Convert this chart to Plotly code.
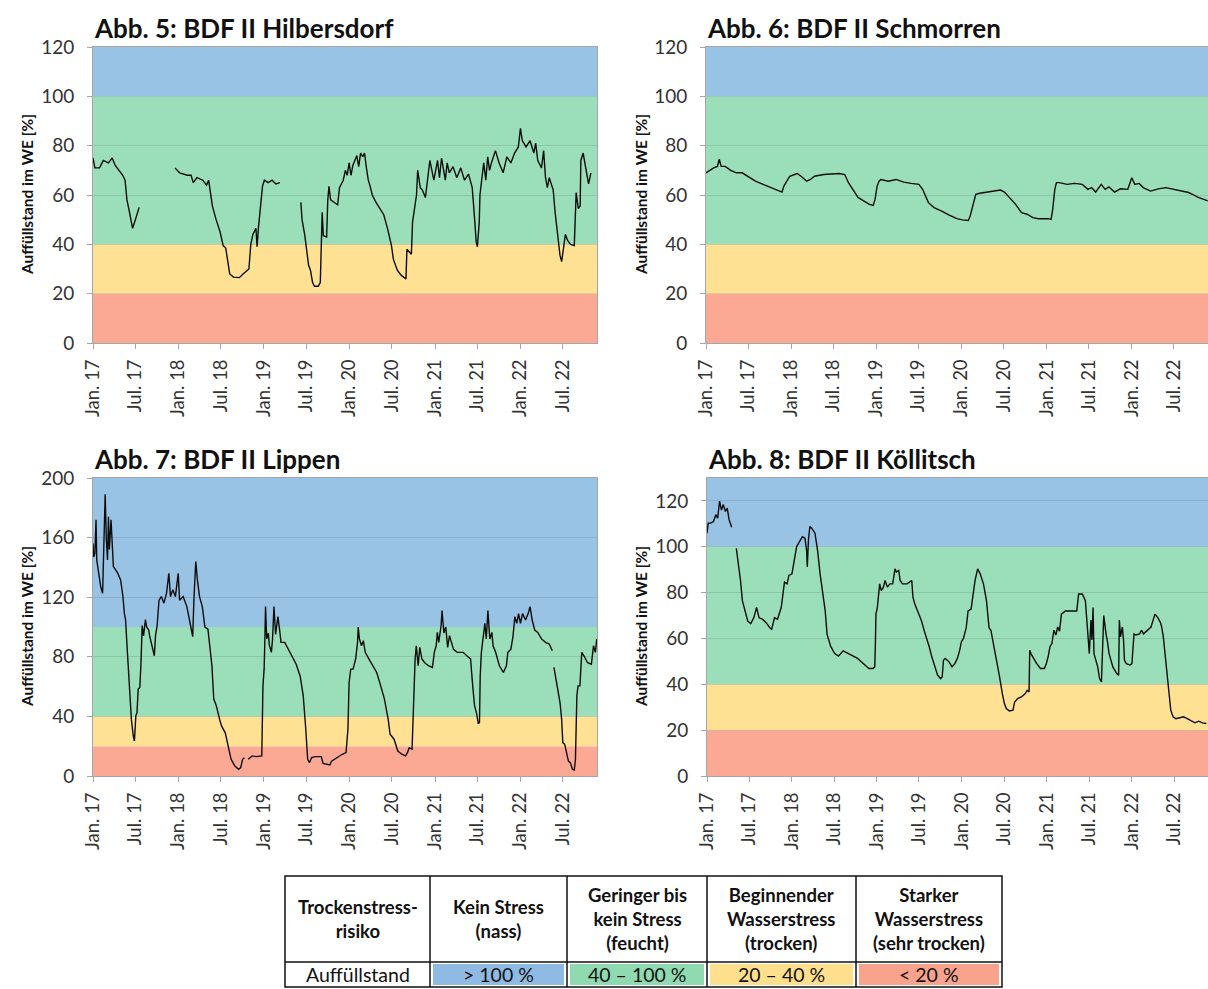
import pandas as pd
import plotly.graph_objects as go

W, H = 1208, 989
FONT = "Lato, 'Open Sans', sans-serif"
START = pd.Timestamp("2017-01-01")
X_END = "2022-11-24"

# ---------------- data ----------------
tick_dates = [f"{y}-{m:02d}-01" for y in range(2017, 2023) for m in (1, 7)]
tick_text = [f"{m} {str(y)[2:]}" for y in range(2017, 2023) for m in ("Jan.", "Jul.")]

titles = ["Abb. 5: BDF II Hilbersdorf", "Abb. 6: BDF II Schmorren",
          "Abb. 7: BDF II Lippen", "Abb. 8: BDF II Köllitsch"]
y_title = "Auffüllstand im WE [%]"

# days since 2017-01-01 and filling level [%]; None = gap in the record
hil_day = [0, 8, 28, 44, 66, 82, 95, 110, 127, 137, 145, 156, 169, 181, 197, 250,
           350, 370, 403, 419, 428, 444, 469, 485, 494, 510, 526, 543, 556, 567, 576, 584, 600, 625,
           641, 658, 666, 674, 683, 696, 701, 707, 716, 724, 732, 748, 765, 781, 798, 840,
           888, 893, 905, 921, 929, 938, 946, 962, 971, 975,
           979, 984, 998, 1003, 1008, 1015, 1028, 1045, 1053, 1069,
           1078, 1086, 1094, 1102, 1110, 1127, 1135, 1143, 1152, 1160,
           1168, 1176, 1184, 1193, 1209, 1226, 1242, 1258, 1275, 1283,
           1300, 1316, 1337, 1341, 1349, 1360, 1365, 1374, 1382, 1387,
           1398, 1407, 1420, 1439, 1456, 1472, 1480, 1489, 1505, 1513,
           1522, 1538, 1554, 1571, 1587, 1604, 1620, 1628, 1637, 1642,
           1650, 1653, 1661, 1669, 1678, 1686, 1694, 1702, 1719, 1735,
           1752, 1768, 1785, 1801, 1817, 1826, 1834, 1850, 1867, 1883,
           1891, 1900, 1916, 1925, 1933, 1941, 1949, 1966, 1974, 1986,
           1995, 2002, 2007, 2018, 2028, 2040, 2056, 2061, 2064, 2073,
           2081, 2084, 2094, 2101, 2111, 2117, 2127]
hil_val = [75, 71, 71, 74, 73, 75, 72, 70, 68, 66, 58, 53, 46.5, 50, 55, None,
           71, 69, 68, 68, 65, 67, 66, 64, 66, 55.5, 50, 45, 39.5, 38.5, 33, 28, 26.7, 26.5,
           28, 29.5, 30, 40, 44, 46.5, 39, 47, 55, 63.5, 66, 65, 66, 64.5, 65, None,
           57, 50, 43.5, 31.5, 29.5, 24.5, 23, 23, 24.5, 37,
           53, 43.5, 43, 58, 63.5, 58, 57, 56, 63, 66,
           70, 68, 73, 68, 72, 76, 71.5, 77, 75.5, 77,
           71, 66, 63.5, 60, 57, 54.5, 52, 46.5, 39.5, 34,
           29.5, 27.5, 26, 38, 37, 36, 49, 54.5, 60, 70,
           63, 62, 59, 74, 66, 74, 67, 75, 66, 73,
           69, 71.5, 67, 71, 66, 68.5, 63, 53, 41, 39,
           49, 60, 66, 73, 66, 75.5, 70, 73, 78, 73,
           69, 75.5, 73, 77, 79.5, 87, 82, 79.5, 82, 77,
           81, 74, 71, 78, 67, 63, 67, 62, 53, 42,
           35.5, 33, 37, 44, 41.5, 40, 39.5, 53, 61, 54.5,
           55.5, 74, 77, 73, 67, 64.5, 69]

sch_day = [0, 16, 33, 49, 57, 65, 82, 106, 130, 155, 179, 212, 245, 277, 310, 326, 334, 350,
           359, 391, 408, 432, 448, 465, 505, 571, 595, 611, 636, 652, 676, 701, 717, 725,
           734, 742, 750, 782, 815, 848, 880, 913, 929, 954, 978, 1011, 1043, 1076, 1100,
           1125, 1133, 1149, 1157, 1174, 1206, 1239, 1263, 1280, 1304, 1328, 1353, 1377,
           1402, 1426, 1467, 1480, 1487, 1496, 1503, 1516, 1549, 1581, 1614, 1638, 1654,
           1671, 1695, 1712, 1728, 1752, 1777, 1809, 1826, 1839, 1858, 1875, 1907, 1940,
           1972, 2005, 2038, 2070, 2086, 2111, 2135, 2152]
sch_val = [69, 70, 71, 71.6, 74.5, 71.6, 71.6, 70, 69, 69, 67.6, 65.6, 64.3, 63, 61.6, 61.2, 63.6, 66,
           67.6, 68.7, 67.6, 65.6, 66.3, 67.6, 68.3, 68.7, 68.3, 65, 61, 59, 57.6, 56.2, 55.8, 58.2,
           63.6, 65.6, 66.3, 65.6, 66.3, 65.2, 64.7, 64.3, 62.3, 56.9, 54.9, 53.5, 51.8, 50.4, 49.9,
           49.7, 51.5, 56.9, 60.3, 60.7, 61.2, 61.6, 62, 61.2, 58.9, 56.2, 52.8, 52.2,
           50.8, 50.4, 50.4, 50.1, 54.2, 62.3, 65, 65, 64.3, 64.7, 64.3, 62.3, 63,
           61.2, 64.3, 62.3, 63.3, 61.2, 62.5, 62.3, 67, 64.3, 64.7, 63, 61.6, 62.5,
           63, 62.3, 61.6, 61, 60.3, 59, 58.2, 57.6]

lip_day = [0, 3, 8, 13, 16, 25, 33, 41, 46, 52, 57, 62, 66, 70, 77, 82, 87, 98, 106, 118, 128, 134,
           139, 147, 156, 164, 172, 177, 183, 188, 193, 200, 205, 210, 216, 224, 229, 238, 242,
           254, 262, 267, 274, 282, 292, 303, 314, 324, 331, 341, 352, 364, 370, 385, 401, 418,
           426, 431, 439, 446, 455, 467, 478, 491, 500, 508, 516, 527, 541, 549, 565, 577, 590,
           606, 622, 631, 639, 647, 651, 663, 680, 696, 713, 721, 726, 731, 734, 737, 742, 749,
           753, 762, 767, 773, 780, 790, 798, 803, 819, 835, 852, 868, 885, 898, 909, 917, 925,
           934, 950, 975, 983, 999, 1012, 1019, 1040, 1065, 1081, 1089, 1094, 1101, 1111, 1122,
           1130, 1133, 1138, 1147, 1155, 1163, 1179, 1196, 1212, 1229, 1245, 1261, 1269, 1286,
           1302, 1319, 1335, 1343, 1351, 1363, 1368, 1376, 1381, 1389, 1396, 1405, 1417, 1433,
           1450, 1458, 1466, 1471, 1477, 1487, 1491, 1499, 1507, 1515, 1523, 1540, 1556, 1581,
           1597, 1613, 1622, 1630, 1638, 1646, 1651, 1654, 1659, 1667, 1674, 1680, 1687, 1695,
           1704, 1709, 1720, 1736, 1753, 1766, 1772, 1785, 1794, 1802, 1810, 1818, 1826, 1835,
           1848, 1859, 1867, 1876, 1887, 1900, 1916, 1933, 1949, 1962, 1965, 1969, 1982, 1995,
           2002, 2007, 2015, 2023, 2031, 2039, 2048, 2056, 2061, 2067, 2072, 2080, 2088, 2097,
           2113, 2129, 2138, 2146, 2152]
lip_val = [156, 147, 149.6, 172, 145, 136, 127, 122.6, 158.5, 189, 158.5, 145, 174, 152, 172, 154,
           140.6, 138, 136, 131.6, 120.4, 109, 105, 83, 60.5, 38, 27, 23.5, 40.4, 42.6, 58.3, 59.4,
           76, 101, 94, 105, 100, 98, 94, 86, 80.7, 94, 101, 118, 120.4, 116, 122.6, 136, 120.4,
           125, 120.4, 136, 118, 120.4, 113.7, 100, 93.5, 118, 144, 131.6, 120.4, 113.7, 100,
           98.6, 87.4, 74, 51.6, 47, 38, 33.6, 29, 20, 11.2, 6.7, 4.5, 5.6, 11.2, 12.3, None,
           11.2, 13.5, 13, 13.5, 13.5, 60.5, 71.7, 90, 113.7, 92, 96, 88, 83, 92, 113.7, 95,
           107, 97, 89.7, 89.7, 85, 80.7, 75, 67, 54, 31.4, 11.2, 9, 12.3, 13, 13, 8.5, 7.8,
           7.4, 10, 12.3, 14.6, 15.7, 31.4, 62.8, 71.7, 71.7, 78.5, 89.7, 100, 92, 87.4, 90.8,
           83, 78.5, 74, 69.5, 60.5, 51.6, 38, 28, 24.7, 16.8, 14.6, 13.5, 15.7, 19, 18, 42.6,
           78.5, 87.4, 74, 86.3, 78.5, 76, 74, 72.9, 83, 87.4, 96.4, 89.7, 101, 111, 96, 100,
           86.3, 94.2, 85, 83, 83, 80.7, 78.5, 60.5, 47, 42.6, 35, 36, 67, 83, 92, 102.5, 92,
           111, 92, 96.4, 87.4, 83, 74, 69.5, 74, 83, 85, 93.5, 107, 102.5, 109, 102.5, 109,
           104.7, 109, 113.7, 104.7, 98, 96.4, 92, 89.7, 88.6, 84, None, 72.9, 60.5, 49.3,
           38, 22.4, 21.3, 15.7, 10, 9, 4.5, 4, 11.2, 54, 60.5, 60.5, 83, 80.7,
           76, 75, 87.4, 83, 92]

koe_day = [0, 5, 16, 28, 38, 46, 54, 62, 70, 79, 87, 95, 106, 115,
           126, 136, 144, 152, 164, 175, 188, 201, 213, 224, 238, 254, 270, 278, 290, 303, 319,
           333, 344, 352, 365, 373, 385, 393, 410, 421, 428, 431, 436, 442, 450, 464, 475, 486,
           496, 508, 516, 532, 549, 565, 585, 606, 631, 647, 663, 680, 696, 713, 721, 724, 726,
           732, 737, 742, 749, 758, 765, 775, 786, 798, 808, 814, 824, 830, 840, 860, 880, 885,
           893, 909, 922, 934, 942, 955, 966, 978, 991, 1004, 1011, 1016, 1024, 1040, 1053,
           1065, 1076, 1086, 1093, 1102, 1109, 1114, 1122, 1135, 1142, 1152, 1163, 1174, 1188,
           1201, 1212, 1220, 1233, 1245, 1256, 1269, 1278, 1286, 1299, 1315, 1322, 1335, 1351,
           1368, 1376, 1384, 1387, 1392, 1400, 1417, 1433, 1450, 1458, 1466, 1474, 1482, 1491,
           1499, 1507, 1515, 1523, 1540, 1564, 1589, 1597, 1613, 1626, 1633, 1638, 1643, 1650,
           1654, 1659, 1663, 1679, 1687, 1695, 1700, 1705, 1715, 1720, 1728, 1744, 1761, 1769,
           1772, 1777, 1785, 1790, 1794, 1802, 1818, 1826, 1835, 1843, 1859, 1867, 1876, 1892,
           1908, 1925, 1938, 1949, 1954, 1961, 1971, 1977, 1987, 1993, 2003, 2015, 2031, 2048,
           2064, 2080, 2097, 2113, 2129, 2146]
koe_val = [105.9, 110.3, 110.3, 111, 114, 112.5, 119.9, 116, 118.4, 115.4, 116.9, 111.8, 108.5, None,
           99.3, 92.6, 85.3, 76.5, 72, 67.6, 66.5, 69, 73.5, 69, 68.4, 66.9, 64.7, 64, 69, 68.4, 73.5,
           84.6, 83.8, 87.5, 88.2, 92.6, 100, 101.5, 104.4, 103.7, 98.5, 91.2, 103, 108.8, 108.1,
           105.9, 98.5, 88.2, 80.9, 72, 61.8, 56.4, 53.4, 52.3, 54.6, 53.4, 52, 51.3, 49.8, 48.4,
           46.9, 46.9, 47.6, 59.3, 70.6, 73.5, 80.9, 83.8, 80.9, 82.4, 85.3, 82.4, 83.8, 83.8,
           90.4, 89, 89.7, 85.3, 83.8, 83.8, 85.3, 78, 75, 71.3, 67.6, 63.2, 60.7, 56.4, 52, 47.6,
           44, 42.5, 43.3, 50.5, 51.3, 49.8, 47.6, 49, 51.3, 54.9, 58.5, 60, 63.6, 64.7, 72, 72.8,
           78, 85.3, 90.4, 88.2, 83.8, 76.5, 64.7, 63.6, 56.4, 50.5, 44, 36, 31.6, 29.4, 28.4,
           28.7, 32.3, 33.8, 34.5, 36, 37.4, 36.7, 54.9, 53.4, 52, 49, 46.9, 46.9, 49, 52, 56.4,
           57.8, 63.6, 61.5, 65, 63.2, 70.6, 72, 72, 72, 79.4, 79.4, 76.5, 67.6, 63.6, 53.4, 68,
           59.3, 73.5, 53.4, 47.6, 42.5, 41, 62, 70, 61.8, 59.3, 53.4, 47.6, 44.7, 44,
           68, 60.7, 65, 59.3, 50.5, 49, 48.4, 49, 62, 61.5, 62, 63.6, 62, 63.6,
           65, 70.6, 69, 66.9, 65, 60.7, 50.5, 41.8, 34.5, 28.7, 25.8, 25, 25.4, 25.8,
           25, 24.3, 23.2, 23.9, 23.2, 22.9]

series_days = [hil_day, sch_day, lip_day, koe_day]
series_vals = [hil_val, sch_val, lip_val, koe_val]
y_max = [120, 120, 200, 130]
y_ticks = [list(range(0, 121, 20)), list(range(0, 121, 20)),
           list(range(0, 201, 40)), list(range(0, 121, 20))]

# risk classes (bands) and legend table
band_lo = [0, 20, 40, 100]
band_hi = [20, 40, 100, None]
band_col = ["#FBA995", "#FEE193", "#9ADFBA", "#98C3E5"]
cell_col = ["#8FBAE4", "#8FDAB0", "#FEDF8E", "#F9A38D"]

tbl_head = ["Trockenstress-<br>risiko", "Kein Stress<br>(nass)", "Geringer bis<br>kein Stress<br>(feucht)",
            "Beginnender<br>Wasserstress<br>(trocken)", "Starker<br>Wasserstress<br>(sehr trocken)"]
tbl_row = ["Auffüllstand", "> 100 %", "40 – 100 %", "20 – 40 %", "< 20 %"]

# ---------------- layout geometry (pixels) ----------------
panels = [  # left, right, top, bottom
    (93, 597, 47, 343),
    (706, 1208, 47, 343),
    (93, 597, 478, 776),
    (707, 1208, 478, 776),
]
ytitle_x = [27, 641, 27, 641]

def px(x):
    return x / W

def py(y):
    return 1 - y / H

fig = go.Figure()
shapes = []
annotations = []
layout = dict(width=W, height=H, margin=dict(l=0, r=0, t=0, b=0, pad=0),
              paper_bgcolor="white", plot_bgcolor="white", showlegend=False,
              template="none", font=dict(family=FONT, color="#333333"))

for i in range(4):
    n = "" if i == 0 else str(i + 1)
    l, r, t, b = panels[i]
    xa = "x" + n
    ya = "y" + n
    dates = [START + pd.Timedelta(days=d) for d in series_days[i]]
    fig.add_trace(go.Scatter(x=dates, y=series_vals[i], mode="lines", xaxis=xa, yaxis=ya,
                             line=dict(color="#0d0d0d", width=1.4), connectgaps=False,
                             hoverinfo="skip"))
    layout["xaxis" + n] = dict(
        domain=[px(l), min(px(r), 1.0)], anchor=ya, type="date", range=[START, X_END],
        tickmode="array", tickvals=tick_dates, ticktext=tick_text, tickangle=-90,
        ticks="outside", ticklen=5, tickcolor="#A6A6A6", showline=True, linecolor="#A6A6A6",
        linewidth=1, mirror=True, showgrid=False, zeroline=False, automargin=False,
        ticklabelstandoff=3,
        tickfont=dict(family=FONT, size=18.5, color="#333333"))
    layout["yaxis" + n] = dict(
        domain=[py(b), py(t)], anchor=xa, range=[0, y_max[i]], tickmode="array",
        tickvals=y_ticks[i], ticks="outside", ticklen=5, tickcolor="#A6A6A6",
        showline=True, linecolor="#A6A6A6", linewidth=1, mirror=True, showgrid=True,
        gridcolor="rgba(90,90,90,0.18)", gridwidth=1, zeroline=False, automargin=False,
        ticklabelstandoff=9, tickfont=dict(family=FONT, size=19, color="#333333"))
    for lo, hi, col in zip(band_lo, band_hi, band_col):
        shapes.append(dict(type="rect", xref=xa + " domain", yref=ya, x0=0, x1=1,
                           y0=lo, y1=hi if hi is not None else y_max[i],
                           fillcolor=col, line=dict(width=0), layer="below"))
    annotations.append(dict(text="<b>" + titles[i] + "</b>", xref="paper", yref="paper",
                            x=px(l - 1), y=py(t - 19), xanchor="left", yanchor="middle",
                            showarrow=False, font=dict(family=FONT, size=26, color="#111111")))
    annotations.append(dict(text="<b>" + y_title + "</b>", xref="paper", yref="paper",
                            x=px(ytitle_x[i]), y=py((t + b) / 2), xanchor="center",
                            yanchor="middle", textangle=-90, showarrow=False,
                            font=dict(family=FONT, size=15.5, color="#111111")))

# ---------------- legend table ----------------
col_x = [285, 430, 567, 707, 856, 1002]
row_y = [876, 962, 987]
for j in range(1, 5):
    shapes.append(dict(type="rect", xref="paper", yref="paper",
                       x0=px(col_x[j] + 3), x1=px(col_x[j + 1] - 3),
                       y0=py(row_y[2] - 2), y1=py(row_y[1] + 2),
                       fillcolor=cell_col[j - 1], line=dict(width=0), layer="above"))
line_style = dict(color="#111111", width=1.5)
shapes.append(dict(type="rect", xref="paper", yref="paper", x0=px(col_x[0]), x1=px(col_x[-1]),
                   y0=py(row_y[2]), y1=py(row_y[0]), line=line_style, layer="above"))
shapes.append(dict(type="line", xref="paper", yref="paper", x0=px(col_x[0]), x1=px(col_x[-1]),
                   y0=py(row_y[1]), y1=py(row_y[1]), line=line_style, layer="above"))
for xv in col_x[1:-1]:
    shapes.append(dict(type="line", xref="paper", yref="paper", x0=px(xv), x1=px(xv),
                       y0=py(row_y[2]), y1=py(row_y[0]), line=line_style, layer="above"))
for j in range(5):
    cx = (col_x[j] + col_x[j + 1]) / 2
    annotations.append(dict(text="<b>" + tbl_head[j] + "</b>", xref="paper", yref="paper",
                            x=px(cx), y=py((row_y[0] + row_y[1]) / 2), xanchor="center",
                            yanchor="middle", align="center", showarrow=False,
                            font=dict(family=FONT, size=18.5, color="#111111")))
    annotations.append(dict(text=tbl_row[j], xref="paper", yref="paper",
                            x=px(cx), y=py((row_y[1] + row_y[2]) / 2), xanchor="center",
                            yanchor="middle", showarrow=False,
                            font=dict(family=FONT, size=19.5, color="#111111")))

layout["shapes"] = shapes
layout["annotations"] = annotations
fig.update_layout(**layout)
fig.write_html("out.html")
